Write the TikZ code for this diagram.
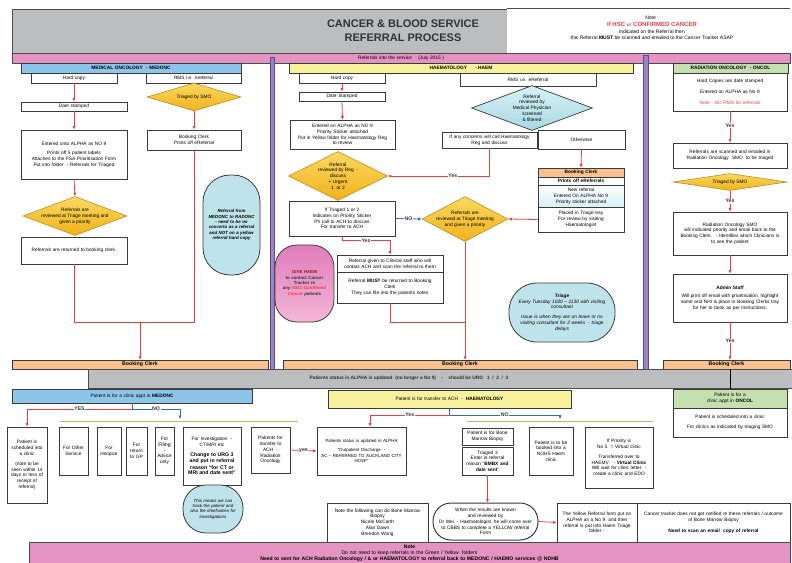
\documentclass[tikz,border=0pt]{standalone}
\usepackage{fontspec}
\setmainfont{Liberation Sans}
\usetikzlibrary{shapes.geometric,arrows.meta,calc}
\definecolor{titlegray}{HTML}{BCBDBF}
\definecolor{pinkc}{HTML}{E493C2}
\definecolor{purp}{HTML}{9A84C6}
\definecolor{purpd}{HTML}{5E4B8F}
\definecolor{medblue}{HTML}{8DC6EA}
\definecolor{haemy}{HTML}{F7F09C}
\definecolor{radg}{HTML}{C5E0AF}
\definecolor{orng}{HTML}{FAC08F}
\definecolor{ltblue}{HTML}{BFE3EA}
\definecolor{pinkell}{HTML}{E07DBB}
\definecolor{pinkell2}{HTML}{F4B6D8}
\definecolor{redl}{HTML}{E8403F}
\definecolor{bluel}{HTML}{2F6EB5}
\definecolor{bdr}{HTML}{3A3A3A}
\definecolor{olivel}{HTML}{BDB76B}
\definecolor{ytop}{HTML}{FBD860}
\definecolor{ybot}{HTML}{F0B21C}
\definecolor{ydraw}{HTML}{B8901E}
\definecolor{bdtop}{HTML}{D6F0F5}
\definecolor{bdbot}{HTML}{A9D8E2}
\definecolor{darkred}{HTML}{8B1A1A}
\newcommand\fa{\fontsize{4.8}{5.8}\selectfont}
\newcommand\fs{\fontsize{4.4}{5.4}\selectfont}
\newcommand\fb{\fontsize{5.2}{6.2}\selectfont}
\newcommand\bx[7]{%
  \pgfmathsetmacro\bxw{#5-(#3)}%
  \pgfmathsetmacro\bxh{#6-(#4)}%
  \pgfmathsetmacro\bxt{#5-(#3)-3}%
  \pgfmathsetmacro\bxx{(#3+#5)/2}%
  \pgfmathsetmacro\bxy{(#4+#6)/2}%
  \node[bx,#2,minimum width=\bxw pt,minimum height=\bxh pt,text width=\bxt pt] (#1) at (\bxx,\bxy) {#7};}
\newcommand\dm[7]{%
  \node[#2,minimum width=#5pt,minimum height=#6pt] (#1) at (#3,#4) {};
  \node[align=center,inner sep=0pt,font=\fa] (#1t) at (#1.center) {#7};}
\begin{document}
\begin{tikzpicture}[x=1pt,y=-1pt,font=\fa,
  bx/.style={draw=bdr,line width=0.7pt,fill=white,align=center,inner xsep=1.5pt,inner ysep=0pt},
  rl/.style={draw=redl,line width=0.8pt},
  ra/.style={rl,-{Latex[length=3.5pt,width=3.2pt]}},
  bl/.style={draw=bluel,line width=0.8pt},
  ba/.style={bl,-{Latex[length=3.5pt,width=3.2pt]}},
  lab/.style={fill=white,inner sep=0.6pt,font=\fb\bfseries,text=black!80},
  ydia/.style={diamond,draw=ydraw,line width=0.6pt,top color=ytop,bottom color=ybot,inner sep=0pt},
  bdia/.style={diamond,draw=bdr,line width=0.7pt,top color=bdtop,bottom color=bdbot,inner sep=0pt},
  ell/.style={fill=ltblue,draw=bdr,line width=0.8pt},
  bar/.style={fill=orng,draw=bdr,line width=0.5pt,font=\fb\bfseries},
  olv/.style={draw=olivel,line width=0.8pt}
]
\useasboundingbox (0,0) rectangle (792,562);
\fill[white] (0,0) rectangle (792,562);

% ---------- header ----------
\bx{titlebox}{fill=titlegray,draw=gray!60!black}{12}{9}{507}{53}{}
\bx{notebox}{draw=none}{507}{9}{790}{53}{}
\draw[line width=1.2pt,gray!60!black] (notebox.north west) -- (notebox.north east);
\node[align=center,font=\fontsize{11}{14}\selectfont\bfseries,text=black!80] (ttl) at (403,31) {CANCER \& BLOOD SERVICE\\REFERRAL PROCESS};
\node[align=center,font=\fontsize{5}{6.8}\selectfont] (note) at (652,28) {Note :\\{\fontsize{6}{6.8}\selectfont\bfseries\color{redl}If HSC \textit{\fontsize{4.6}{5}\selectfont or} CONFIRMED CANCER}\\indicated on the Referral then\\this Referral \textbf{MUST} be scanned and emailed to the Cancer Tracker ASAP};
\bx{band}{fill=pinkc,draw=gray!60!black,line width=0.5pt,font=\fa}{12}{53}{790}{63}{Referrals into the service~~~ (July 2015 )}
\bx{div1}{fill=purp,draw=purpd,line width=0.5pt}{270}{57}{274}{370}{}
\bx{div2}{fill=purp,draw=purpd,line width=0.5pt}{643}{55}{648}{370}{}

\bx{medhdr}{fill=medblue,line width=0.5pt,font=\fa\bfseries}{21}{63}{241}{73}{MEDICAL ONCOLOGY~ - MEDONC}
\bx{haemhdr}{fill=haemy,line width=0.5pt,font=\fa\bfseries}{289}{63}{633}{73}{HAEMATOLOGY~~~~ - HAEM}
\bx{radhdr}{fill=radg,line width=0.5pt,font=\fa\bfseries}{673}{63}{788}{73}{RADIATION ONCOLOGY~ - ONCOL}

% ---------- MEDONC ----------
\bx{m1}{}{31}{73}{117}{83}{Hard copy}
\bx{m2}{}{146}{73}{241}{83}{RMS i.e. ereferral}
\bx{m3}{font=\fa\itshape}{21}{102}{127}{111}{Date stamped}
\dm{m4}{ydia}{194}{97}{94}{28}{Triaged by SMO}
\bx{m5}{}{147}{130}{241}{150}{Booking Clerk\\Prints off eReferral}
\bx{m6}{}{21}{130}{127}{179}{Entered onto ALPHA as NO 9\\[4pt]Prints off 5 patient labels\\Attaches to the FSA Prioritisation Form\\Put into folder~ - Referrals for Triaged}
\dm{m7}{ydia}{75}{216}{104}{39}{Referrals are\\reviewed at Triage meeting and\\given a priority}
\bx{m8}{}{21}{237}{127}{264}{Referrals are returned to booking clerk.}
\bx{m9}{ell,rounded corners=27pt,font=\fs\bfseries\itshape}{203}{175}{260}{275}{Referral from\\MEDONC to RADONC\\- need to be on\\concerto as a referral\\and NOT on a yellow\\referral hard copy}

\draw[ra] (m1.south) -- (m3.north);
\draw[ra] (m3.south) -- (m6.north);
\draw[ra] (m6.south) -- (m7.north);
\draw[ra] (m4.south) -- (m5.north);
\coordinate (mj1) at (194,322);
\coordinate (mj2) at (140,322);
\draw[rl] (m8.south) |- (mj1) -- (m5.south);

% ---------- HAEM ----------
\bx{h1}{}{299}{73}{385}{83}{Hard copy}
\bx{h2}{}{299}{92}{385}{101}{Date Stamped}
\bx{h3}{}{290}{120}{395}{149}{Entered on ALPHA as NO 9\\Priority Sticker attached\\Put in Yellow folder for Haematology Reg\\to review}
\bx{h4}{}{460}{73}{596}{86}{RMS i.e. eReferral}
\dm{h5}{bdia}{532}{108}{121}{45}{Referral\\reviewed by\\Medical Physician\\screened\\\& filtered}
\bx{h6}{}{442}{132}{537}{148}{If any concerns will call Haematology\\Reg and discuss}
\bx{h7}{}{538}{130}{625}{149}{Otherwise}
\dm{h8}{ydia}{338}{176}{99}{49}{Referral\\reviewed by Reg~ -\\discuss\\+ Urgent\\1~ or 2}
\bx{h9}{}{289}{201}{395}{236}{If Triaged 1 or 2\\Indicates on Priority Sticker\\Ph call to ACH to discuss\\For transfer to ACH}
\dm{h10}{ydia}{465}{219}{86}{45}{Referrals are\\reviewed at Triage meeting\\and given a priority}
\bx{h11a}{fill=orng,font=\fa\bfseries}{538}{168}{624}{177}{Booking Clerk}
\bx{h11b}{font=\fa\bfseries}{538}{177}{624}{185}{Prints off eReferrals}
\bx{h11c}{top color=white,bottom color=bdtop}{538}{185}{624}{207}{New referral\\Entered On ALPHA No 9\\Priority sticker attached}
\bx{h11d}{}{538}{207}{624}{232}{Placed in Triage tray\\For review by visiting\\Haematologist}
\bx{h12}{}{337}{255}{443}{272}{Referral given to Clinical staff who will\\contact ACH and scan the referral to them}
\bx{h13}{}{337}{272}{443}{303}{Referral \textbf{MUST} be returned to Booking\\Clerk\\They can file into the patients notes}
\bx{h14}{draw=bdr,line width=0.8pt,top color=pinkell,bottom color=pinkell2,rounded corners=22pt,font=\fs\bfseries}{275}{245}{334}{322}{\color{darkred}GIVE HAEM\\\color{black!80}to contact Cancer\\Tracker re\\\textit{any \color{redl}HSC/ Confirmed\\Cancer \color{black!80}patients}}
\bx{h15}{ell,rounded corners=28pt,font=\fa\itshape}{509}{283}{615}{342}{\textbf{Triage}\\Every Tuesday 1030 -- 1130 with visiting\\consultant\\[4pt]Issue is when they are on leave or no\\visiting consultant for 2 weeks~ - triage\\delays}

\draw[ra] (h1.south) -- (h2.north);
\draw[ra] (h2.south) -- (h3.north);
\draw[ra] (h6.south) |- node[lab,pos=0.68]{Yes} (h8.east);
\draw[ra] (h7.south) -- (h11a.north);
\draw[ra] (h11d.west) -- (h10.east);
\draw[ba] (h9.east) -- node[lab,text=black!80]{NO} (h10.west);
\draw[ra] (h9.south) -- ++(0,4) -| node[lab,pos=0.25]{Yes} (h12.north);
\coordinate (hj1) at (465,322);
\draw[rl] (h13.south) |- (hj1);

% ---------- ONCOL ----------
\bx{r1}{}{673}{73}{787}{111}{Hard Copies are date stamped\\[5pt]Entered on ALPHA as No 9\\[5pt]\textcolor{redl}{Note - NO RMS for referrals}}
\bx{r2}{}{673}{143}{787}{168}{Referrals are scanned and emailed in\\Radiation Oncology~ SMO~ to be triaged}
\dm{r3}{ydia}{730}{182}{114}{17}{Triaged by SMO}
\bx{r4}{}{673}{212}{787}{255}{Radiation Oncology SMO\\will indicated priority and email back to the\\Booking Clerk.~ - Identifies which Clinicians is\\to see the patient}
\bx{r5}{}{673}{274}{787}{322}{\textbf{Admin Staff}\\[3pt]Will print off email with prioritisation, highlight\\name and NHI \& place in Booking Clerks tray\\for her to book as per instructions.}
\draw[ra] (r1.south) -- node[lab,pos=0.45]{Yes} (r2.north);
\draw[ra] (r3.south) -- node[lab,pos=0.5]{Yes} (r4.north);
\draw[ra] (r4.south) -- (r5.north);

% ---------- booking clerk bars ----------
\bx{bc1}{bar}{12}{360}{268}{369}{Booking Clerk}
\bx{bc2}{bar}{283}{360}{637}{369}{Booking Clerk}
\bx{bc3}{bar}{663}{360}{790}{369}{Booking Clerk}
\draw[ra] (mj2) -- (mj2 |- bc1.north);
\draw[ra] (h10.south) -- (h10.south |- bc2.north);
\draw[ra] (r5.south) -- node[lab,pos=0.5]{Yes} (r5.south |- bc3.north);

\bx{status}{fill=titlegray,draw=gray!60!black,line width=0.5pt}{88}{369}{792}{388}{}
\node[font=\fa\bfseries,text=black!80] (statust) at (409,378.5) {Patients status in ALPHA is updated~ (no longer a No 9)~~~ -~~~ should be URG~~ 1~ /~ 2~ /~ 3};

% ---------- bottom MEDONC ----------
\bx{mb}{fill=medblue,line width=0.6pt}{12}{389}{252}{403}{Patient is for a clinic appt in \textbf{MEDONC}}
\coordinate (mj) at (132,409);
\coordinate (mno) at (180,419);
\coordinate (mlL) at (60,421);
\coordinate (mlR) at (298,421);
\draw[olv] (mlL) -- (mlR);
\bx{mc1}{}{7}{427}{47}{503}{Patient is\\scheduled into\\a clinic\\[4pt](note to be\\seen within 14\\days or less of\\receipt of\\referral)}
\bx{mc2}{}{59}{427}{88}{475}{For Other\\Service}
\bx{mc3}{}{97}{427}{121}{475}{For\\Hospice}
\bx{mc4}{}{126}{427}{147}{475}{For\\return\\to GP}
\bx{mc5}{}{155}{427}{174}{475}{For\\{\fb Filing}\\-\\Advice\\only}
\bx{mc6}{}{183}{427}{241}{485}{For Investigation~ -\\CT/MRI etc\\[4pt]{\fb\bfseries Change to URG 3\\and put in referral\\reason ``for CT or\\MRI and date sent''}}
\bx{mc7}{}{251}{427}{290}{473}{Patients for\\transfer to\\ACH~ -\\Radiation\\Oncology}
\bx{mc8}{font=\fs}{317}{427}{406}{475}{Patients status is updated in ALPHA\\[4pt]``Outpatient Discharge~ -\\AC -- REFERRED TO AUCKLAND CITY\\HOSP''}
\bx{mc9}{ell,rounded corners=23pt,font=\fs\itshape}{183}{485}{243}{533}{This means we can\\track the patient and\\also the timeframes for\\investigations}
\draw[bl] (mb.south) -- (mj);
\draw[ra] (mj) -| node[lab,pos=0.25]{YES} (mc1.north);
\draw[ba] (mj) -| node[lab,pos=0.25]{NO} (mno);
\draw[ra] (mc7.east) -- node[lab]{yes} (mc8.west);

% ---------- bottom HAEM ----------
\bx{hb}{fill=haemy,line width=0.6pt}{328}{390}{571}{408}{Patient is for transfer to ACH~ -~ \textbf{HAEMATOLOGY}}
\coordinate (hj) at (449.5,415);
\coordinate (hno) at (560,419);
\coordinate (hlL) at (467,421);
\coordinate (hlR) at (653,421);
\draw[olv] (hlL) -- (hlR);
\bx{hc1}{}{462}{428}{513}{445}{Patient is for Bone\\Marrow Biopsy}
\bx{hc2}{}{462}{447}{513}{475}{Triaged 3\\Enter in referral\\reason ``\textbf{BMBX and\\date sent}''}
\bx{hc3}{}{529}{427}{573}{475}{Patient is to be\\booked into a\\NOHS Haem\\clinic}
\bx{hc4}{}{585}{427}{653}{488}{If Priority is\\No 5~ = Virtual clinic\\[4pt]Transferred over to\\HAEMV~~ - \textbf{Virtual Clinic}\\Will wait for clinic letter~ -\\create a clinic and EDO}
\bx{hc5}{draw=bdr,line width=1pt,rounded corners=18pt}{433}{503}{538}{540}{When the results are known\\and reviewed by\\Dr Wei~ - Haematologist, he will come over\\to CBBS to complete a YELLOW referral\\Form}
\bx{hc6}{}{557}{503}{637}{542}{The Yellow Referral form put on\\ALPHA as a No 9~ and then\\referral is put into Haem Triage\\folder -}
\bx{hc7}{}{637}{503}{790}{542}{Cancer tracker does not get notified re these referrals / outcome\\of Bone Marrow Biopsy\\[5pt]\textbf{Need to scan an email~ copy of referral}}
\bx{hc8}{}{327}{503}{428}{542}{Note the following can do Bone Marrow\\Biopsy\\Nicole McCarth\\Alan Dawn\\Brendon Wong}
\draw[bl] (hb.south) -- (hj);
\draw[ra] (hj) -| node[lab,pos=0.25]{Yes} ([xshift=8.5pt]mc8.north);
\draw[ba] (hj) -| node[lab,pos=0.25]{NO} (hno);
\draw[ra] (hc2.south) -- (hc2.south |- hc5.north);
\draw[ra] (hc5.east) -- (hc6.west);

% ---------- bottom ONCOL ----------
\bx{on1}{fill=radg}{673}{389}{787}{408}{Patient is for a\\clinic appt in \textbf{ONCOL}}
\bx{on2}{}{673}{408}{787}{437}{Patient is scheduled into a clinic\\[4pt]For clinics as indicated by triaging SMO}
\draw[line width=0.8pt,black] (on1.north) -- (on1.north |- bc3.south);

% ---------- bottom note ----------
\bx{bnote}{fill=pinkc,draw=gray!60!black,line width=0.6pt,font=\fontsize{5.1}{6}\selectfont}{29}{542}{790}{564}{\textbf{Note}\\Do not need to keep referrals in the Green / Yellow~ folders\\\textbf{Need to sent for ACH Radiation Oncology / \& or HAEMATOLOGY to referral back to MEDONC / HAEMO services @ NDHB}}
\end{tikzpicture}
\end{document}
